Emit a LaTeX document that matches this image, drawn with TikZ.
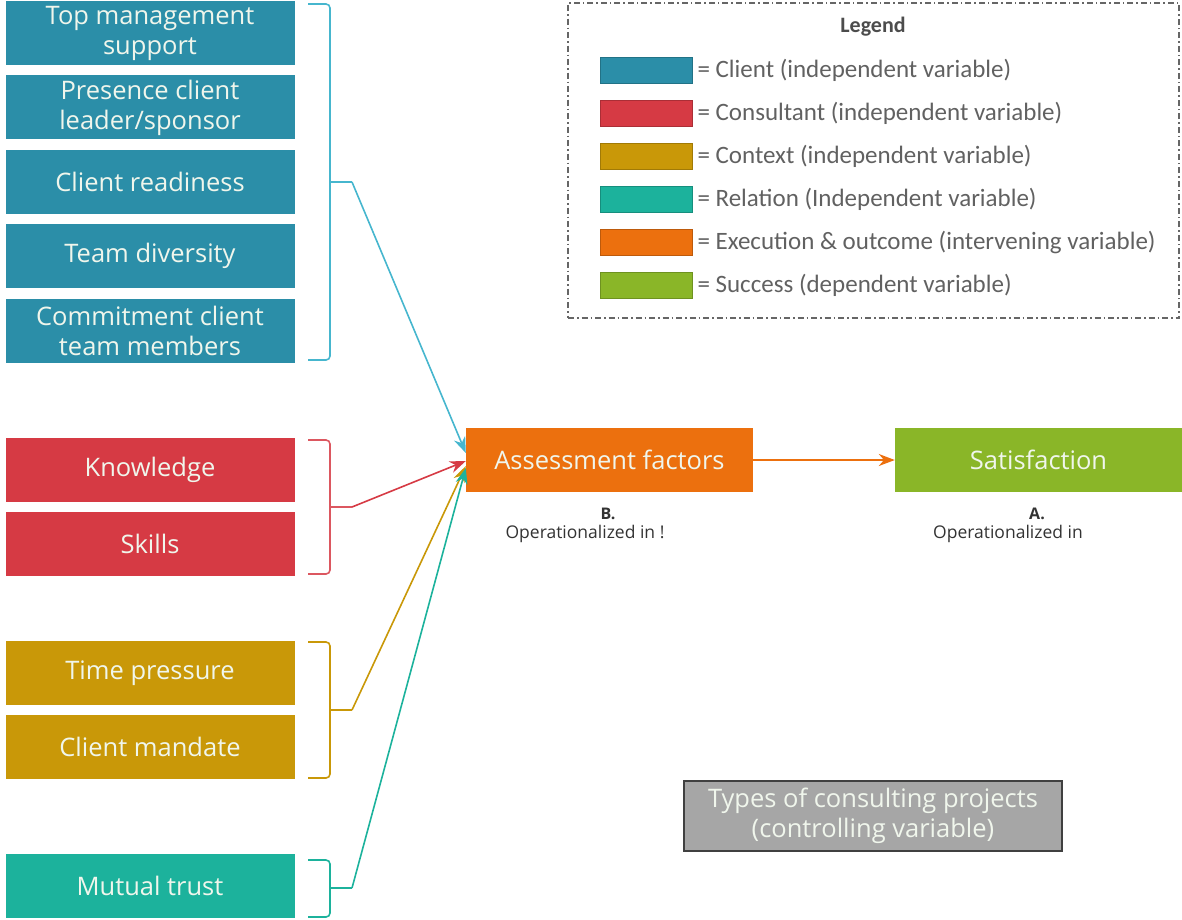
\documentclass[tikz,border=0pt]{standalone}
\usepackage{fontspec}
\setmainfont{Open Sans}
\newfontfamily\legfont{Carlito}
\usepackage{tikz}
\usetikzlibrary{arrows.meta,positioning}
\definecolor{clientc}{RGB}{43,142,168}
\definecolor{consultc}{RGB}{214,58,68}
\definecolor{contextc}{RGB}{201,152,8}
\definecolor{relationc}{RGB}{28,178,156}
\definecolor{execc}{RGB}{236,112,14}
\definecolor{successc}{RGB}{138,182,40}
\definecolor{ctrlgray}{RGB}{166,166,166}
\definecolor{boxtxt}{RGB}{240,246,236}
\definecolor{clientln}{RGB}{70,182,206}

\begin{document}
\begin{tikzpicture}[x=1pt, y=-1pt,
  box/.style={minimum width=289pt, minimum height=64pt, inner sep=0pt,
              align=center, text=boxtxt, font=\fontsize{25.5}{30}\selectfont},
  brk/.style={line width=1.6pt, rounded corners=4pt},
  arr/.style={-{Stealth[length=16pt, width=12pt]}, line width=1.6pt},
  swatch/.style={minimum width=92pt, minimum height=26pt, inner sep=0pt},
  legtxt/.style={anchor=west, text=black!62, font=\legfont\fontsize{25}{28}\selectfont},
  lbl/.style={text=black!80, font=\fontsize{17.5}{20}\selectfont},
  node distance=10pt,
]
\useasboundingbox (0,0) rectangle (1182,919);

% client factors
\node[box, fill=clientc] (top) at (150,33) {Top management\\support};
\node[box, fill=clientc, below=of top] (pres) {Presence client\\leader/sponsor};
\node[box, fill=clientc, below=of pres] (ready) {Client readiness};
\node[box, fill=clientc, below=of ready] (div) {Team diversity};
\node[box, fill=clientc, below=of div] (commit) {Commitment client\\team members};

% consultant factors
\node[box, fill=consultc] (know) at (150,470) {Knowledge};
\node[box, fill=consultc, below=of know] (skill) {Skills};

% context factors
\node[box, fill=contextc] (time) at (150,673) {Time pressure};
\node[box, fill=contextc, below=of time] (mand) {Client mandate};

% relation
\node[box, fill=relationc] (trust) at (150,886) {Mutual trust};

% outcome boxes
\node[box, fill=execc, minimum width=287pt] (asm) at (609.5,460) {Assessment factors};
\node[box, fill=successc, minimum width=287pt] (sat) at (1038.5,460) {Satisfaction};
\node[lbl, font=\bfseries\fontsize{16}{18}\selectfont] (bl) at (608,514) {B.};
\node[lbl, below=-2pt of bl, xshift=-23pt] (bop) {Operationalized in !};
\node[lbl, font=\bfseries\fontsize{16}{18}\selectfont] (al) at (1037,514) {A.};
\node[lbl, below=-2pt of al, xshift=-29pt] (aop) {Operationalized in};

\node[box, fill=ctrlgray, draw=black!75, line width=1.5pt, minimum width=378pt,
      minimum height=70pt] (ctrl) at (873,816) {Types of consulting projects\\(controlling variable)};

% brackets
\draw[brk, clientln] (308,4) -- (330,4) -- (330,360) -- (308,360);
\draw[brk, consultc!85] (308,440) -- (330,440) -- (330,574) -- (308,574);
\draw[brk, contextc] (308,642) -- (330,642) -- (330,778) -- (308,778);
\draw[brk, relationc] (308,860) -- (330,860) -- (330,917) -- (308,917);
\coordinate (cl) at (352,182);
\coordinate (co) at (352,507);
\coordinate (cx) at (352,710);
\coordinate (re) at (352,888);
\draw[line width=1.6pt, clientln] (330,182) -- (cl);
\draw[line width=1.6pt, consultc!85] (330,507) -- (co);
\draw[line width=1.6pt, contextc] (330,710) -- (cx);
\draw[line width=1.6pt, relationc] (330,888) -- (re);

\draw[arr, clientln] (cl) -- ([yshift=7pt]asm.west);
\draw[arr, consultc] (co) -- ([yshift=-1pt]asm.west);
\draw[arr, contextc] (cx) -- ([yshift=-6pt]asm.west);
\draw[arr, relationc] (re) -- ([yshift=-8pt]asm.west);
\draw[arr, execc] (asm) -- (sat);

% legend
\node[draw=black!60, line width=1.2pt, dash pattern=on 6pt off 3pt on 1.5pt off 3pt,
      minimum width=611pt, minimum height=315pt] (legend) at (873.5,160.5) {};
\node[font=\legfont\bfseries\fontsize{22}{24}\selectfont, text=black!70] (legtitle) at (873,27) {Legend};
\foreach \c/\t [count=\i] in {clientc/Client (independent variable),
    consultc/Consultant (independent variable),
    contextc/Context (independent variable),
    relationc/Relation (Independent variable),
    execc/Execution \& outcome (intervening variable),
    successc/Success (dependent variable)}{
  \node[swatch, fill=\c, draw=\c!80!black] (sw\i) at (646,27+43*\i) {};
  \node[legtxt] (lt\i) at (694,27+43*\i) {= \t};
}
\end{tikzpicture}
\end{document}
